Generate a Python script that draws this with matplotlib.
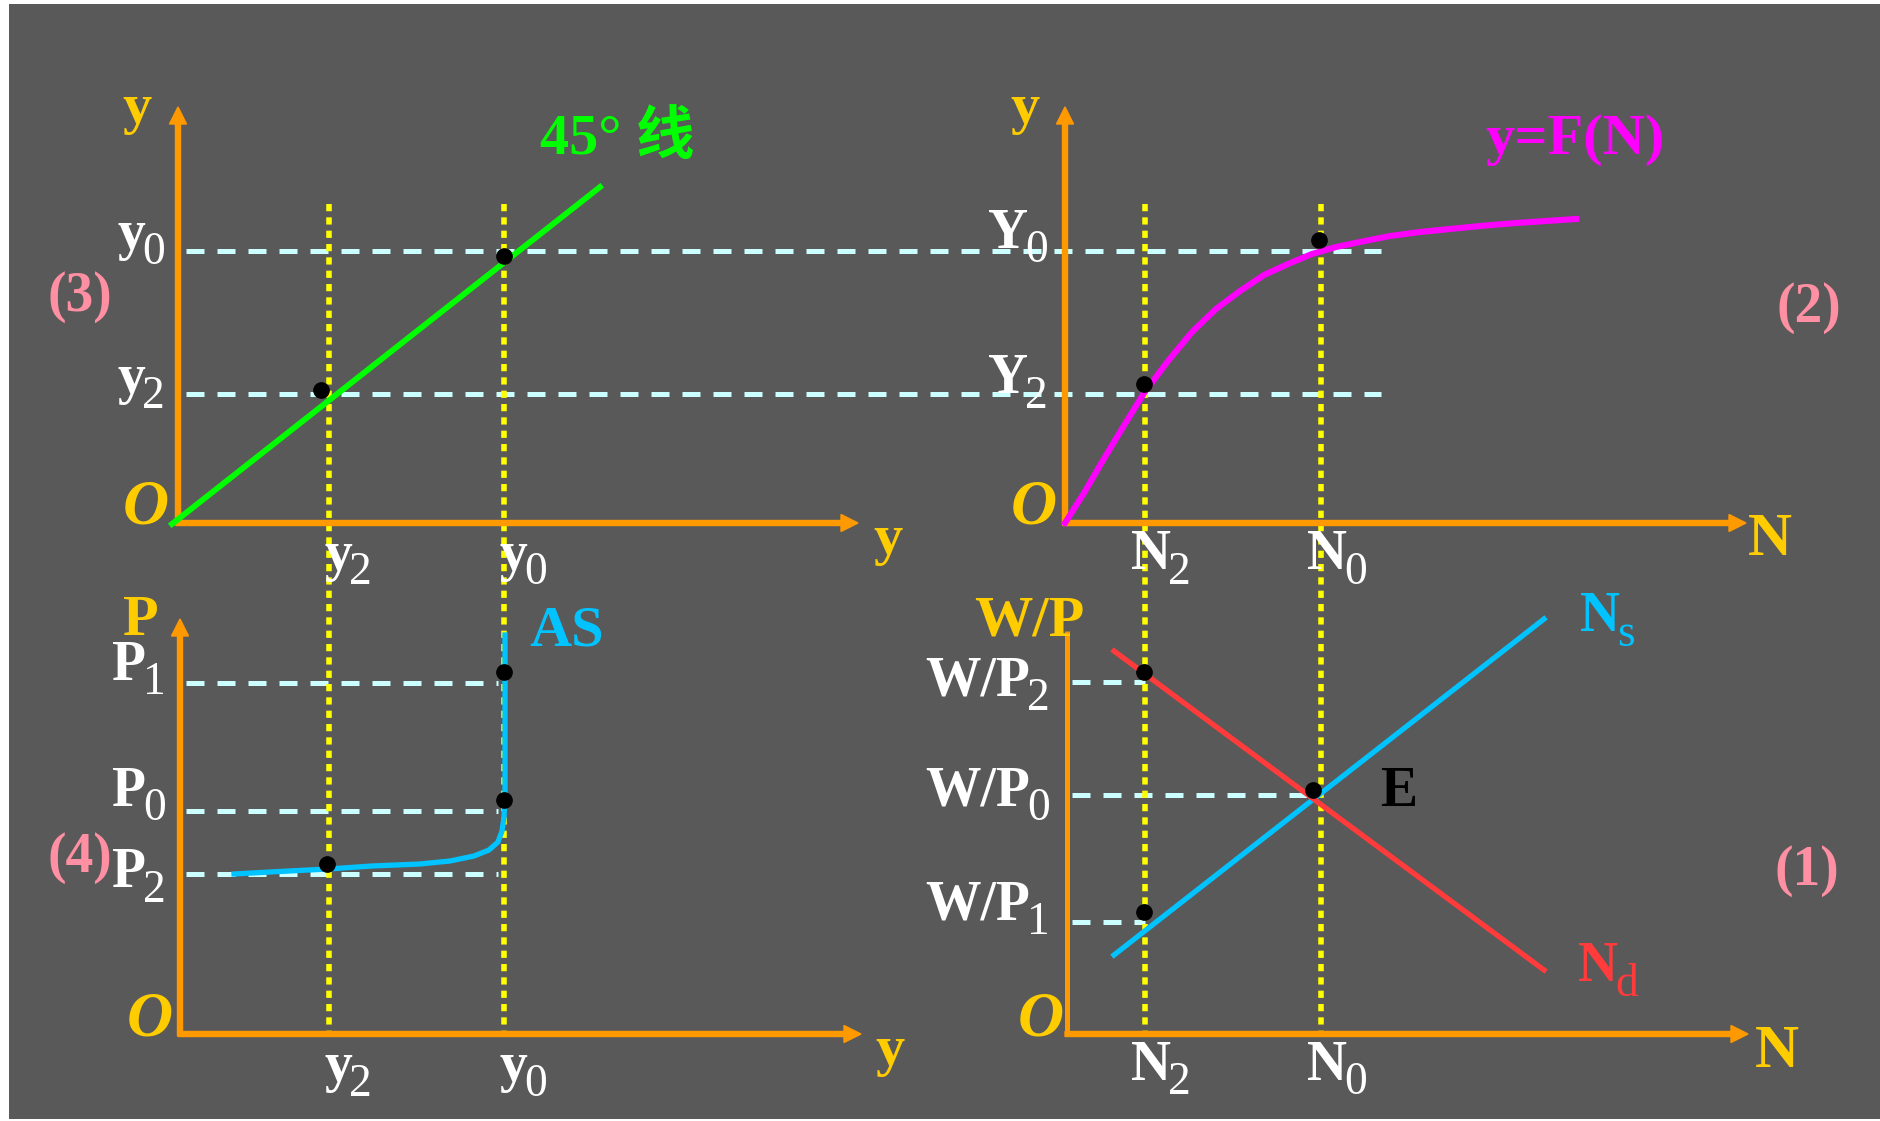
import numpy as np
import matplotlib.pyplot as plt
from matplotlib.patches import Rectangle

W, H = 1880, 1121
SERIF = ['Liberation Serif', 'Noto Sans CJK SC', 'DejaVu Sans']

BG = '#595959'
AXIS = '#FF9900'
GOLD = '#FFCC00'
PINK = '#FF8FA3'
DASH = '#CCFFFF'
DOT = '#FFFF00'
CYAN = '#00C3FF'
RED = '#FF3B3B'

# positions on the canvas (px, y grows downward)
x_y2, x_y0 = 329, 504           # output levels, left panels
x_N2, x_N0 = 1145, 1321         # employment levels, right panels
lvl_y0, lvl_y2 = 251, 394       # output levels on the top panels
lvl_P1, lvl_P0, lvl_P2 = 683, 811, 874
lvl_w2, lvl_w0, lvl_w1 = 682, 795, 922

# axes: origin x, origin y, x arrow tip, y arrow tip
axes_ox = [178, 1065, 180, 1067]
axes_oy = [523, 523, 1034, 1034]
axes_xtip = [858, 1746, 861, 1748]
axes_ytip = [107, 107, 619, 631]
axes_head = [True, True, True, False]

# 45 degree line
line45_x = [172, 600]
line45_y = [524, 187]

# production function y=F(N)
prod_x = [1065, 1084, 1102, 1120, 1144, 1168, 1192, 1216, 1240, 1264, 1288,
          1312, 1336, 1360, 1390, 1420, 1450, 1480, 1516, 1576]
prod_y = [523, 493, 462, 432, 393, 361, 332, 309, 291, 275, 264,
          254, 247, 242, 236, 232, 229, 226, 223, 219]

# AS curve
as_x = [234, 270, 328, 372, 420, 450, 474, 489, 498, 502, 504, 505, 505, 505]
as_y = [874, 872, 869, 866, 864, 861, 856, 850, 842, 831, 817, 792, 703, 635]

# labour supply / demand
ns_x = [1114, 1544]
ns_y = [955, 619]
nd_x = [1114, 1544]
nd_y = [651, 970]

# black points
dots_x = [321, 504, 1144, 1319, 327, 504, 504, 1144, 1313, 1144]
dots_y = [390, 256, 384, 240, 864, 800, 672, 672, 790, 912]

fig = plt.figure(figsize=(W / 100, H / 100), dpi=100, facecolor='white')
ax = fig.add_axes([0, 0, 1, 1])
ax.set_xlim(0, W)
ax.set_ylim(H, 0)
ax.axis('off')
ax.add_patch(Rectangle((9, 4), W - 9, 1115, facecolor=BG, edgecolor='none', zorder=0))

# dashed guide lines (horizontal)
dash_kw = dict(color=DASH, lw=3.6, dashes=(3.6, 2.6), zorder=2)
for lvl in [lvl_y0, lvl_y2]:
    ax.plot([186, 1381], [lvl, lvl], **dash_kw)
for lvl in [lvl_P1, lvl_P0, lvl_P2]:
    ax.plot([186, 498], [lvl, lvl], **dash_kw)
ax.plot([1072, x_N2], [lvl_w2, lvl_w2], **dash_kw)
ax.plot([1072, 1309], [lvl_w0, lvl_w0], **dash_kw)
ax.plot([1072, x_N2], [lvl_w1, lvl_w1], **dash_kw)

# dotted yellow verticals
for xv in [x_y2, x_y0, x_N2, x_N0]:
    ax.plot([xv, xv], [204, 1034], color=DOT, lw=4.0, dashes=(1.3, 1.1), zorder=2)

# axes with arrows
for ox, oy, xt, yt, head in zip(axes_ox, axes_oy, axes_xtip, axes_ytip, axes_head):
    ax.arrow(ox - 2, oy, xt - ox + 2, 0, width=5, head_width=17, head_length=17,
             length_includes_head=True, color=AXIS, zorder=3)
    if head:
        ax.arrow(ox, oy + 2, 0, yt - oy - 2, width=5, head_width=17, head_length=17,
                 length_includes_head=True, color=AXIS, zorder=3)
    else:
        ax.plot([ox, ox], [oy + 2, yt], color=AXIS, lw=3.6, zorder=3, solid_capstyle='butt')

# curves
ax.plot(line45_x, line45_y, color='#00FF00', lw=4.2, zorder=4)
ax.plot(prod_x, prod_y, color='#FF00FF', lw=4.4, zorder=4)
ax.plot(as_x, as_y, color=CYAN, lw=3.8, zorder=4)
ax.plot(ns_x, ns_y, color=CYAN, lw=3.8, zorder=4)
ax.plot(nd_x, nd_y, color=RED, lw=3.8, zorder=4)

ax.plot(dots_x, dots_y, 'o', color='black', ms=11, zorder=5)


def label(x, y, main, sub='', color='white', size=40, ha='center',
          weight='bold', style='normal', sdx=-2, sdy=-9):
    t = ax.text(x, y, main, color=color, fontsize=size, ha=ha, va='baseline',
                fontweight=weight, fontstyle=style, family=SERIF, zorder=6)
    if sub:
        ax.annotate(sub, xy=(1, 0), xycoords=t, xytext=(sdx, sdy),
                    textcoords='offset points', color=color, fontsize=size * 0.82,
                    ha='left', va='bottom', fontweight='normal', family=SERIF, zorder=6)
    return t


# panel (3)
label(137, 123, 'y', color=GOLD, size=42)
label(888, 554, 'y', color=GOLD, size=42)
label(146, 523, 'O', color=GOLD, size=46, style='italic')
label(131, 249, 'y', '0')
label(131, 393, 'y', '2')
label(x_y2 + 9, 570, 'y', '2')
label(x_y0 + 9, 570, 'y', '0')
label(617, 154, '45° 线', color='#00FF00', size=42)
ax.text(80, 297, '(3)', color=PINK, fontsize=40, fontweight='bold', family=SERIF,
        ha='center', va='center', zorder=6)

# panel (2)
label(1025, 123, 'y', color=GOLD, size=42)
label(1770, 555, 'N', color=GOLD, size=44)
label(1034, 524, 'O', color=GOLD, size=46, style='italic')
label(1008, 248, 'Y', '0')
label(1008, 393, 'Y', '2')
label(x_N2 + 6, 569, 'N', '2')
label(x_N0 + 6, 569, 'N', '0')
label(1575, 154, 'y=F(N)', color='#FF00FF', size=42)
ax.text(1809, 308, '(2)', color=PINK, fontsize=40, fontweight='bold', family=SERIF,
        ha='center', va='center', zorder=6)

# panel (4)
label(141, 635, 'P', color=GOLD, size=42)
label(890, 1065, 'y', color=GOLD, size=42)
label(150, 1035, 'O', color=GOLD, size=46, style='italic')
label(129, 680, 'P', '1')
label(129, 806, 'P', '0')
label(129, 887, 'P', '2')
label(x_y2 + 9, 1081, 'y', '2')
label(x_y0 + 9, 1081, 'y', '0')
label(567, 646, 'AS', color=CYAN, size=42)
ax.text(80, 858, '(4)', color=PINK, fontsize=40, fontweight='bold', family=SERIF,
        ha='center', va='center', zorder=6)

# panel (1)
label(1029, 635, 'W/P', color=GOLD, size=42)
label(1777, 1067, 'N', color=GOLD, size=44)
label(1041, 1035, 'O', color=GOLD, size=46, style='italic')
label(1030, 696, 'W/P', '2', ha='right')
label(1030, 806, 'W/P', '0', ha='right')
label(1030, 919, 'W/P', '1', ha='right')
label(x_N2 + 6, 1080, 'N', '2')
label(x_N0 + 6, 1080, 'N', '0')
label(1399, 806, 'E', color='black')
label(1600, 631, 'N', 's', color=CYAN)
label(1598, 981, 'N', 'd', color=RED)
ax.text(1807, 871, '(1)', color=PINK, fontsize=40, fontweight='bold', family=SERIF,
        ha='center', va='center', zorder=6)

fig.savefig('out.png', dpi=100, facecolor='white')
